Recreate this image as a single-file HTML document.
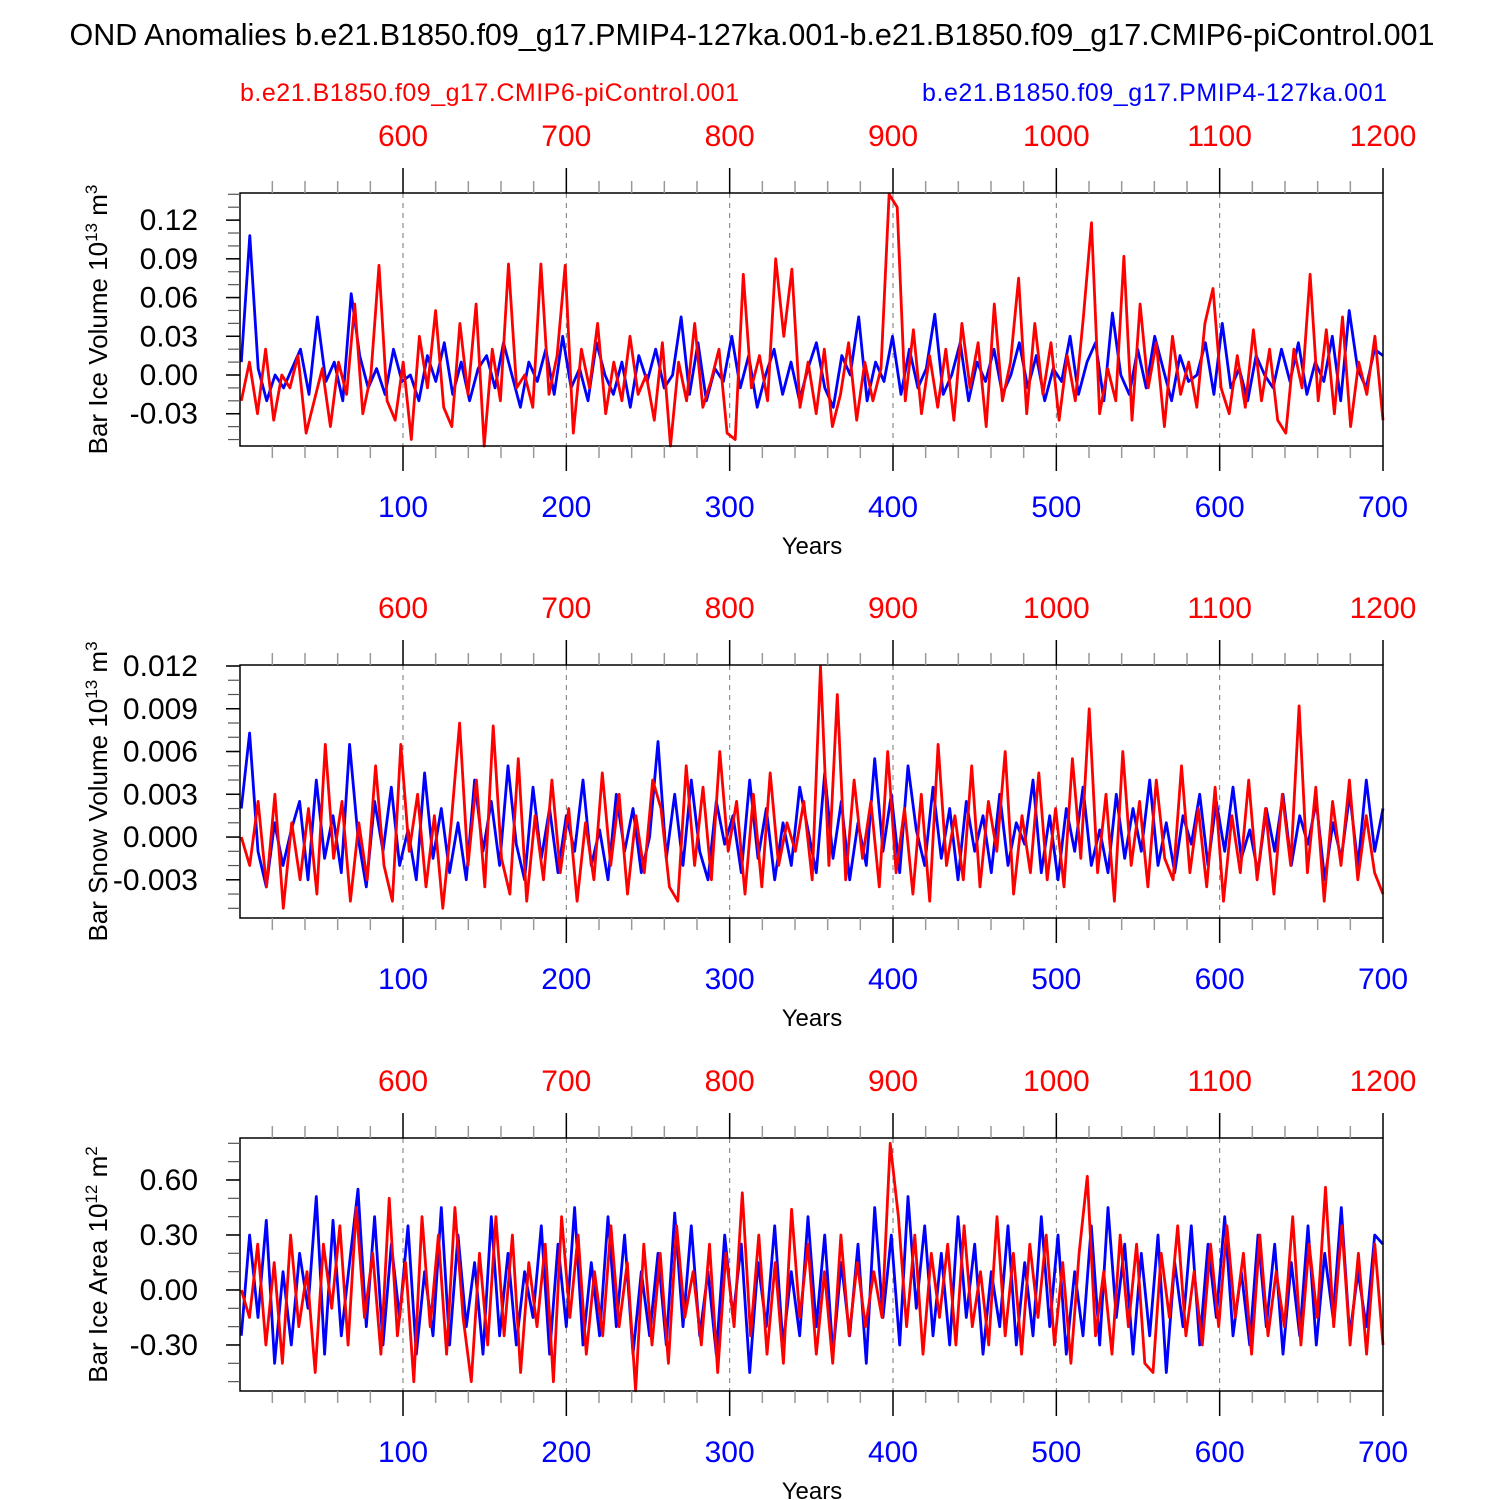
<!DOCTYPE html>
<html><head><meta charset="utf-8"><style>
body{margin:0;background:#fff}
svg{display:block;font-family:"Liberation Sans",sans-serif}
</style></head><body>
<svg id="chart" width="1500" height="1500" viewBox="0 0 1500 1500" xmlns="http://www.w3.org/2000/svg">
<text x="752" y="45" font-size="30.5" text-anchor="middle">OND Anomalies b.e21.B1850.f09_g17.PMIP4-127ka.001-b.e21.B1850.f09_g17.CMIP6-piControl.001</text>
<text x="240" y="101" font-size="25" fill="#f00" textLength="499">b.e21.B1850.f09_g17.CMIP6-piControl.001</text>
<text x="922" y="101" font-size="25" fill="#00f" textLength="465">b.e21.B1850.f09_g17.PMIP4-127ka.001</text>
</svg>
<script>
const p1Blue=[10,108,5,-20,0,-10,5,20,-15,45,-5,10,-20,63,15,-10,5,-15,20,-5,0,-20,15,-5,25,-15,10,-20,5,15,-10,25,0,-25,10,-5,20,-15,30,-10,5,-20,25,0,-15,10,-25,15,-5,20,-10,0,45,-15,25,-20,5,-5,30,-10,15,-25,0,20,-15,10,-20,5,25,-10,-25,15,0,45,-20,10,-5,30,-15,20,-10,5,47,-15,0,25,-20,10,-5,20,-15,0,25,-10,15,-20,5,-5,30,-15,10,25,-20,48,0,-15,20,-10,30,5,-20,15,-5,0,25,-15,40,-10,5,-20,15,0,-10,20,-5,25,-15,10,-5,30,-20,50,5,-10,20,15];
const p1Red=[-20,10,-30,20,-35,0,-10,15,-45,-20,5,-40,10,-15,55,-30,0,85,-20,-35,10,-50,30,-10,50,-25,-40,40,-15,55,-55,20,-20,86,-10,0,-25,86,-15,15,85,-45,20,-10,40,-30,10,-20,30,-15,0,-35,25,-55,10,-20,40,-25,-5,20,-45,-50,78,-10,15,-20,90,30,82,-25,10,-30,20,-40,-15,25,-35,10,-20,5,140,130,-20,35,-30,15,-25,20,-35,40,-10,25,-40,55,-20,10,75,-30,40,-15,25,-35,15,-20,45,118,-30,5,-20,92,-35,55,-10,25,-40,30,-15,10,-25,40,67,-10,-30,15,-25,35,-20,20,-35,-45,20,-10,78,-20,35,-30,45,-40,10,-15,30,-35];
const p2Blue=[20,73,-10,-35,10,-20,5,25,-30,40,-15,15,-25,65,0,-35,25,-10,35,-20,5,-30,45,-15,20,-25,10,-30,40,-10,25,-20,50,-5,-30,35,-15,20,-25,15,-10,40,-20,5,-30,30,-10,20,-25,0,67,-15,30,-20,40,-10,-30,25,-5,15,-25,40,-15,20,-30,10,-20,35,5,-25,45,-15,25,-30,10,-20,55,-10,30,-25,50,5,-20,35,-15,20,-30,25,-10,15,-25,30,-20,10,-5,40,-25,15,-30,20,-10,35,-20,5,-25,30,-15,20,-10,40,-20,10,-25,15,-5,30,-20,25,-10,35,-15,5,-25,20,-10,30,-20,15,-5,25,-30,10,-15,30,-20,40,-10,20];
const p2Red=[0,-20,25,-35,30,-50,10,-30,20,-40,65,-15,25,-45,10,-30,50,-20,-45,65,-10,30,-35,15,-50,10,80,-20,40,-35,78,-15,-40,55,-45,15,-30,40,-25,20,-45,10,-30,45,-20,30,-40,15,-25,40,20,-35,-45,50,-20,35,-30,60,-10,25,-40,30,-35,45,-20,10,-10,25,-30,120,-20,100,-30,40,-15,25,-35,60,-25,20,-40,30,-45,65,-20,15,-30,50,-35,25,-10,60,-40,15,-25,45,-30,20,-35,55,-15,90,-25,30,-45,60,-20,25,-35,40,-15,-30,50,-25,20,-35,35,-45,15,-25,40,-30,20,-40,30,-20,92,-25,35,-45,25,-20,40,-30,15,-25,-40];
const p3Blue=[-25,30,-15,38,-40,10,-30,20,-10,51,-35,38,-25,15,55,-20,40,-30,25,-15,35,-35,10,-25,45,-30,30,-20,15,-35,40,-25,20,-30,10,-15,35,-35,25,-20,45,-30,15,-25,40,-20,30,-35,10,-25,20,-30,42,-20,35,-25,10,-35,30,-15,25,-45,15,-20,35,-30,10,-25,40,-20,30,-35,15,-25,25,-40,45,-15,30,-30,51,-10,35,-25,20,-30,40,-15,25,-35,10,-20,35,-30,15,-25,40,-20,30,-35,10,-25,35,-30,45,-15,25,-35,20,-25,30,-45,15,-20,35,-30,25,-15,40,-25,10,-30,30,-20,25,-35,15,-25,35,-30,20,-15,45,-25,10,-20,30,25];
const p3Red=[0,-15,25,-30,15,-40,30,-20,10,-45,25,-10,35,-30,45,-15,20,-35,50,-25,15,-50,40,-20,30,-35,45,-15,-50,20,-30,40,-25,30,-45,15,-20,25,-50,40,-15,30,-35,10,-25,35,-20,15,-55,25,-30,20,-40,35,-15,10,-30,25,-45,20,-20,53,-25,30,-35,15,-40,44,-15,25,-35,10,-40,30,-25,15,-20,10,-15,80,40,-20,30,-35,20,-15,25,-30,35,-20,10,-30,40,-25,20,-35,25,-15,30,-30,15,-40,20,62,-25,10,-35,30,-20,25,-40,-45,20,-15,35,-25,10,-30,25,-20,35,-15,20,-35,30,-25,10,-20,40,-30,25,-15,56,-20,35,-30,20,-35,25,-30];
const bottomTicks=[100,200,300,400,500,600,700];
const topTicks=[600,700,800,900,1000,1100,1200];
const yTicks1=["0.12","0.09","0.06","0.03","0.00","-0.03"];
const yTicks2=["0.012","0.009","0.006","0.003","0.000","-0.003"];
const yTicks3=["0.60","0.30","0.00","-0.30"];

const svg=document.getElementById('chart');
const NS='http://www.w3.org/2000/svg';
function mk(tag,attrs,parent){const e=document.createElementNS(NS,tag);for(const k in attrs)e.setAttribute(k,attrs[k]);(parent||svg).appendChild(e);return e;}
const X0=240,X1=1383;
const xs=y=>X0+(y-0.2)*(X1-X0)/699.8;

const panels=[
 {top:193,bot:446,ymin:-0.055,ymax:0.141,scale:1000,blue:p1Blue,red:p1Red,ticks:yTicks1,step:0.03,minor:0.01,unit:'13',pw:'3',label:'Bar Ice Volume',name:'ice-volume'},
 {top:665,bot:918,ymin:-0.00568,ymax:0.01207,scale:10000,blue:p2Blue,red:p2Red,ticks:yTicks2,step:0.003,minor:0.001,unit:'13',pw:'3',label:'Bar Snow Volume',name:'snow-volume'},
 {top:1138,bot:1391,ymin:-0.551,ymax:0.829,scale:100,blue:p3Blue,red:p3Red,ticks:yTicks3,step:0.3,minor:0.1,unit:'12',pw:'2',label:'Bar Ice Area',name:'ice-area'}
];
panels.forEach(p=>{
 const g=mk('g',{});
 
 
 const ys=v=>p.bot-(v-p.ymin)*(p.bot-p.top)/(p.ymax-p.ymin);
 bottomTicks.slice(0,6).forEach(t=>{const l=mk('line',{x1:xs(t),x2:xs(t),y1:p.top,y2:p.bot,stroke:'#777','stroke-dasharray':'5,5','stroke-width':1},g);});
 [[p.blue,'#00f','pmip4-127ka-line'],[p.red,'#f00','picontrol-line']].forEach(([arr,col,nm])=>{
  const pts=arr.map((v,i)=>xs(1+i*699/(arr.length-1)).toFixed(1)+','+ys(v/p.scale).toFixed(1)).join(' ');
  const pl=mk('polyline',{points:pts,fill:'none',stroke:col,'stroke-width':2.8,'stroke-linejoin':'round'},g);
  
  
 });
 const fr=mk('rect',{x:X0,y:p.top,width:X1-X0,height:p.bot-p.top,fill:'none',stroke:'#000','stroke-width':1.5},g);
 
 for(let t=20;t<=700;t+=20){const maj=t%100===0;
  mk('line',{x1:xs(t),x2:xs(t),y1:p.top,y2:p.top-(maj?25:12),stroke:maj?'#000':'#999','stroke-width':1.5},g);
  mk('line',{x1:xs(t),x2:xs(t),y1:p.bot,y2:p.bot+(maj?25:12),stroke:maj?'#000':'#999','stroke-width':1.5},g);}
 bottomTicks.forEach((t,i)=>{
  const a=mk('text',{x:xs(t),y:p.bot+71,'font-size':30,fill:'#00f','text-anchor':'middle'},g);a.textContent=t;
  
  const b=mk('text',{x:xs(t),y:p.top-47,'font-size':30,fill:'#f00','text-anchor':'middle'},g);b.textContent=topTicks[i];
  
 });
 const xt=mk('text',{x:812,y:p.bot+108,'font-size':24,'text-anchor':'middle'},g);xt.textContent='Years';
 
 let v=Math.ceil(p.ymin/p.minor)*p.minor;
 for(;v<=p.ymax+1e-9;v+=p.minor){const yy=ys(v);mk('line',{x1:X0,x2:X0-12,y1:yy,y2:yy,stroke:'#555','stroke-width':1.2},g);}
 p.ticks.forEach(s=>{const yy=ys(parseFloat(s));
  mk('line',{x1:X0,x2:X0-14,y1:yy,y2:yy,stroke:'#000','stroke-width':1.5},g);
  const t=mk('text',{x:X0-42,y:yy+10,'font-size':30,'text-anchor':'end'},g);t.textContent=s;
  });
 const cy=(p.top+p.bot)/2;
 const yl=mk('text',{x:0,y:0,'font-size':26,'text-anchor':'middle',transform:`translate(107,${cy}) rotate(-90)`},g);
 
 yl.innerHTML=`${p.label} 10<tspan dy="-10" font-size="17">${p.unit}</tspan><tspan dy="10"> m</tspan><tspan dy="-10" font-size="17">${p.pw}</tspan>`;
});
</script>
</body></html>
